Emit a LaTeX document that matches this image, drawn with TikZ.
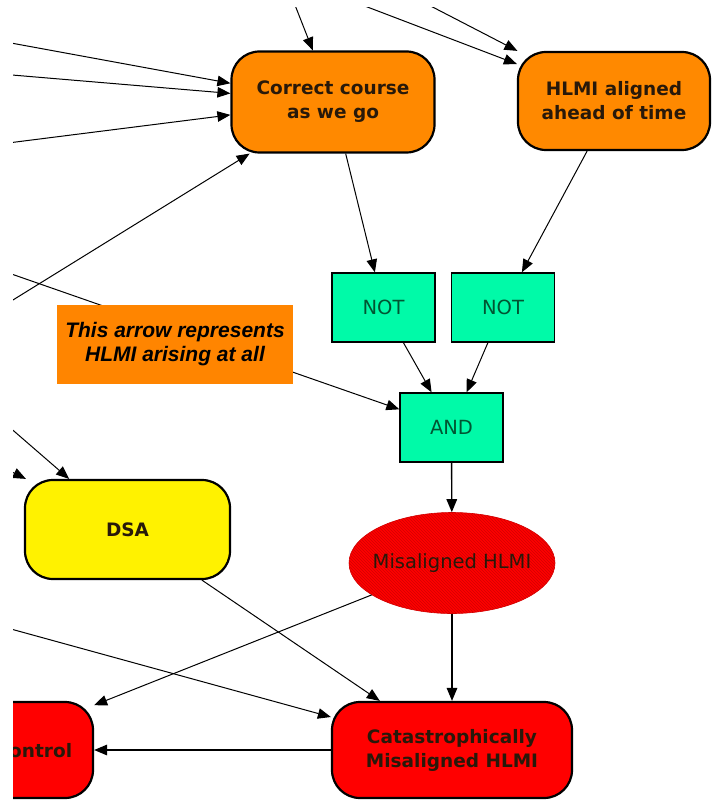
\documentclass[tikz,border=0pt]{standalone}
\usepackage{fontspec}
\setmainfont{DejaVu Sans}
\newfontfamily\notefont{Liberation Sans}
\usepackage{xcolor}
\usepackage{tikz}
\usetikzlibrary{arrows.meta, shapes.geometric, patterns}
\definecolor{boxorange}{RGB}{255,137,0}
\definecolor{noteorange}{RGB}{255,133,0}
\definecolor{gatecyan}{RGB}{0,250,168}
\definecolor{gatetext}{RGB}{0,85,50}
\definecolor{darktext}{RGB}{40,25,10}
\definecolor{hatchred}{RGB}{210,0,0}

\begin{document}
\begin{tikzpicture}[x=1pt, y=-1pt,
    causebox/.style={draw=black, line width=2.2pt, rounded corners=28pt, inner sep=0pt,
      align=center, text=darktext, font=\bfseries\fontsize{18.5}{24}\selectfont},
    gatebox/.style={draw=black, line width=1.3pt, fill=gatecyan, inner sep=0pt,
      minimum width=103pt, minimum height=69pt, text=gatetext, font=\fontsize{19.5}{22}\selectfont},
    link/.style={line width=1pt, -{Triangle[length=13pt, width=10.5pt]}}]
  \useasboundingbox (0,0) rectangle (715,802);
  \clip (13,8) rectangle (715,802);

  % Orange causes
  \node[causebox, fill=boxorange, minimum width=203pt, minimum height=101pt] (course) at (333,102) {Correct course\\as we go};
  \node[causebox, fill=boxorange, minimum width=192pt, minimum height=98pt] (ahead) at (614,101) {HLMI aligned\\ahead of time};

  % Logic gates
  \node[gatebox] (notA) at (383.5,307.5) {NOT};
  \node[gatebox] (notB) at (503,307.5) {NOT};
  \node[gatebox] (gate) at (451.5,427.5) {AND};

  % Outcomes
  \node[ellipse, draw=hatchred, line width=0.6pt, fill=red, minimum width=206pt, minimum height=101pt,
    inner xsep=-7pt, inner ysep=0pt,
    postaction={pattern=north west lines, pattern color=hatchred},
    text=darktext, font=\fontsize{19.5}{22}\selectfont] (misal) at (452,563) {Misaligned HLMI};
  \node[causebox, fill=red, minimum width=240pt, minimum height=96pt] (catas) at (452,750) {Catastrophically\\Misaligned HLMI};
  \node[causebox, fill=red, minimum width=153pt, minimum height=96pt] (ctrl) at (16.5,750) {};
  \node[anchor=west, inner sep=0pt, text=darktext, font=\bfseries\fontsize{18.5}{22}\selectfont] (ctrltext) at (9,751) {ontrol};
  \node[causebox, fill=yellow, minimum width=205pt, minimum height=99pt] (dsa) at (127.5,529.5) {DSA};

  % Free ends off the picture
  \coordinate (topA) at (293,0);
  \coordinate (topB) at (349,0);
  \coordinate (topC) at (419,0);
  \coordinate (leftA) at (0,41);
  \coordinate (leftB) at (0,74);
  \coordinate (leftC) at (0,144);
  \coordinate (leftD) at (0,308);
  \coordinate (leftE) at (0,270);
  \coordinate (leftF) at (0,419);
  \coordinate (leftG) at (0,466);
  \coordinate (leftH) at (0,626);

  % Arrows
  \draw[link] (topA) -- (course);
  \draw[link] (topB) -- (ahead);
  \draw[link] (topC) -- (ahead);
  \draw[link] (leftA) -- (course);
  \draw[link] (leftB) -- (course);
  \draw[link] (leftC) -- (course);
  \draw[link] (leftD) -- (course);
  \draw[link] (leftE) -- (gate);
  \draw[link] (leftF) -- (dsa);
  \draw[link] (leftG) -- (dsa);
  \draw[link] (leftH) -- (catas);
  \draw[link] (course) -- (notA);
  \draw[link] (ahead) -- (notB);
  \draw[link] (notA) -- (gate);
  \draw[link] (notB) -- (gate);
  \draw[link, line width=1.4pt] (gate) -- (misal);
  \draw[link, line width=1.4pt] (misal) -- (catas);
  \draw[link] (misal) -- (ctrl.30);
  \draw[link] (dsa) -- (catas);
  \draw[link, line width=1.4pt] (catas) -- (ctrl);

  % Note on top of the arrow
  \node[fill=noteorange, minimum width=236pt, minimum height=79pt, inner sep=0pt, align=center,
    font=\notefont\bfseries\itshape\fontsize{21}{24}\selectfont] (note) at (175,344.5) {This arrow represents\\HLMI arising at all};
\end{tikzpicture}
\end{document}
